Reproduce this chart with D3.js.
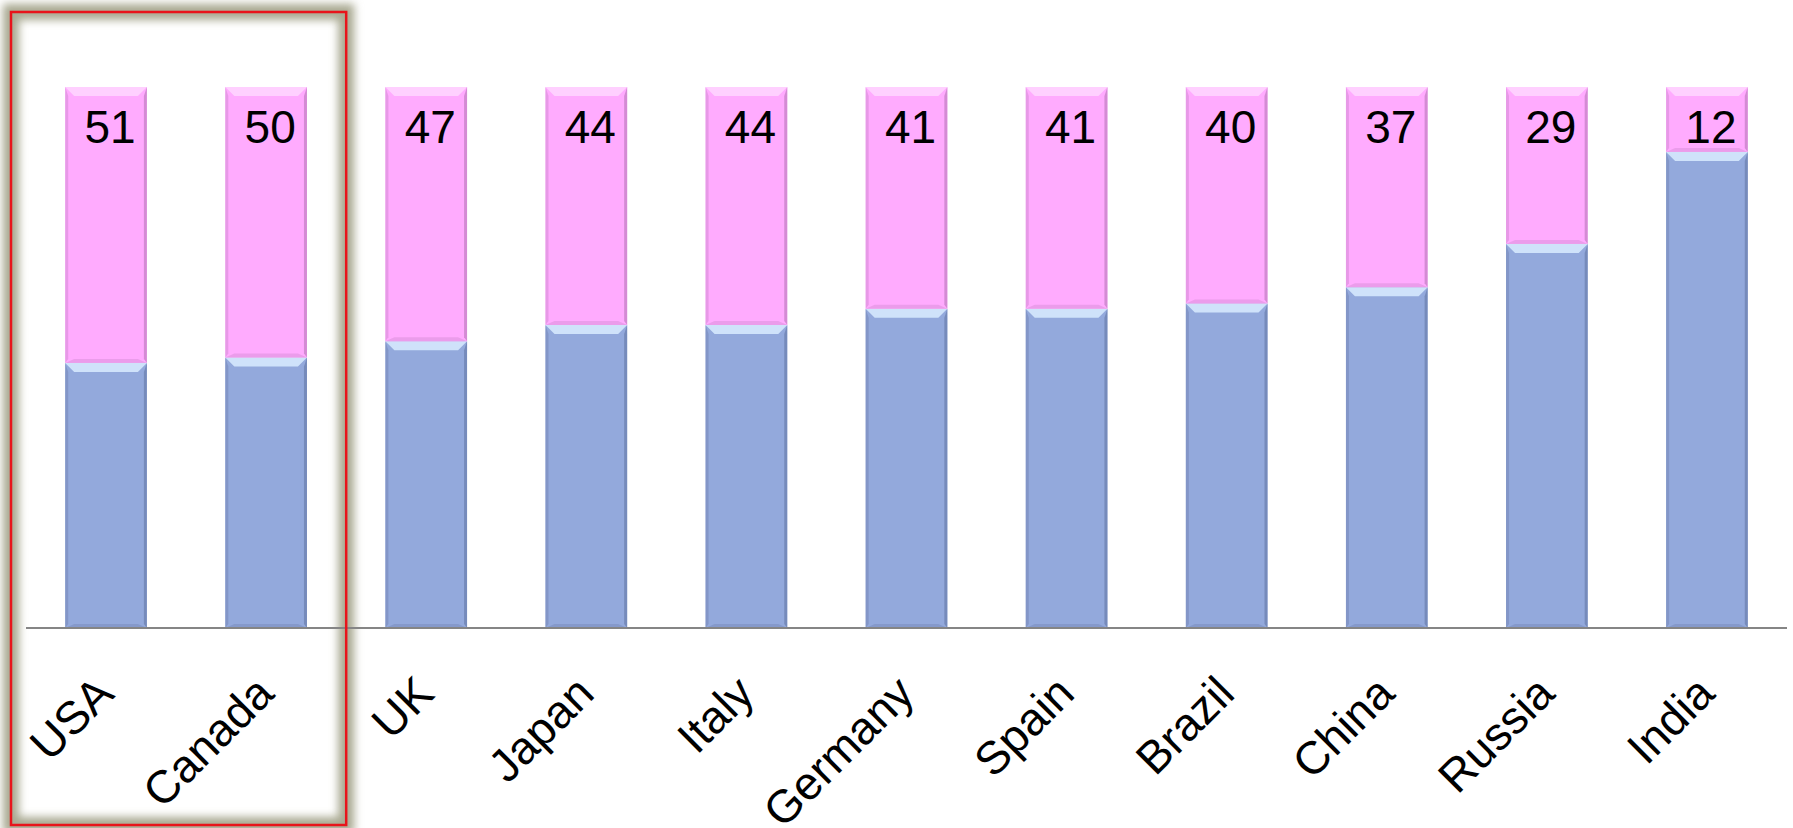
<!DOCTYPE html>
<html>
<head>
<meta charset="utf-8">
<script src="https://cdn.jsdelivr.net/npm/d3@7"></script>
<style>
  body { margin: 0; background: #fff; }
  text { font-family: Arial, "Liberation Sans", sans-serif; fill: #000; }
</style>
</head>
<body>
<div id="chart"></div>
<script>
var countries = ["USA", "Canada", "UK", "Japan", "Italy", "Germany", "Spain", "Brazil", "China", "Russia", "India"];
var topValues = [51, 50, 47, 44, 44, 41, 41, 40, 37, 29, 12];
var bottomValues = [49, 50, 53, 56, 56, 59, 59, 60, 63, 71, 88];
var highlighted = ["USA", "Canada"];

var W = 1793, H = 828;
var axisY = 628, topY = 87;

var svg = d3.select("#chart").append("svg")
    .attr("width", W)
    .attr("height", H);

var defs = svg.append("defs");
defs.append("filter").attr("id", "glow")
    .attr("x", "-10%").attr("y", "-10%").attr("width", "120%").attr("height", "120%")
  .append("feGaussianBlur").attr("stdDeviation", 4);

var x = d3.scaleBand()
    .domain(countries)
    .range([26, 1787])
    .paddingInner(0.49)
    .paddingOuter(0.245);

var y = d3.scaleLinear()
    .domain([0, 100])
    .range([axisY, topY]);

var rows = countries.map(function(c, i){
    return {name: c, bottom: bottomValues[i], top: topValues[i]};
});

var series = [
    {key: "bottom", base: "#93a9dc", light: "#d9ecff", dark: "#6f83b3", edge: "#7c8fbf"},
    {key: "top", base: "#ffabfe", light: "#ffd6ff", dark: "#c983c9", edge: "#dd92dd"}
];

// highlight box round the first two
var bx0 = x(highlighted[0]) - (x.step() - x.bandwidth()) / 2 - 15;
var bx1 = x(highlighted[1]) + x.bandwidth() + (x.step() - x.bandwidth()) / 2;
svg.append("rect")
    .attr("x", bx0).attr("y", 12)
    .attr("width", bx1 - bx0).attr("height", 813)
    .attr("fill", "none")
    .attr("stroke", "#a9a991")
    .attr("stroke-width", 16)
    .attr("filter", "url(#glow)");

function bevel(g, x0, y0, w, h, s){
    var b = Math.min(9, h / 2), sd = 3;
    g.append("rect").attr("x", x0).attr("y", y0).attr("width", w).attr("height", h).attr("fill", s.base);
    // top highlight
    g.append("polygon")
        .attr("points", [[x0, y0], [x0 + w, y0], [x0 + w - b, y0 + b], [x0 + b, y0 + b]].join(" "))
        .attr("fill", s.light).attr("opacity", 0.85);
    // bottom shade
    g.append("polygon")
        .attr("points", [[x0, y0 + h], [x0 + w, y0 + h], [x0 + w - b, y0 + h - 4], [x0 + b, y0 + h - 4]].join(" "))
        .attr("fill", s.edge).attr("opacity", 0.6);
    // sides
    g.append("polygon")
        .attr("points", [[x0, y0], [x0 + sd, y0 + b], [x0 + sd, y0 + h - 4], [x0, y0 + h]].join(" "))
        .attr("fill", s.edge).attr("opacity", 0.7);
    g.append("polygon")
        .attr("points", [[x0 + w, y0], [x0 + w - sd, y0 + b], [x0 + w - sd, y0 + h - 4], [x0 + w, y0 + h]].join(" "))
        .attr("fill", s.dark).attr("opacity", 0.8);
}

var bars = svg.selectAll(".bar")
    .data(rows)
  .enter().append("g")
    .attr("class", "bar");

bars.each(function(d){
    var g = d3.select(this);
    var x0 = x(d.name), w = x.bandwidth();
    var yb0 = y(d.bottom), yb1 = y(0);
    var yt0 = y(d.bottom + d.top), yt1 = y(d.bottom);
    bevel(g, x0, yb0, w, yb1 - yb0, series[0]);
    bevel(g, x0, yt0, w, yt1 - yt0, series[1]);
});

svg.selectAll(".valueLabel")
    .data(rows)
  .enter().append("text")
    .attr("class", "valueLabel")
    .attr("x", function(d){ return x(d.name) + x.bandwidth() / 2 + 4; })
    .attr("y", y(100) + 56)
    .attr("text-anchor", "middle")
    .style("font-size", "46px")
    .text(function(d){ return d.top; });

svg.append("line")
    .attr("x1", x.range()[0])
    .attr("x2", x.range()[1])
    .attr("y1", axisY)
    .attr("y2", axisY)
    .attr("stroke", "#858585")
    .attr("stroke-width", 2);

svg.selectAll(".catLabel")
    .data(countries)
  .enter().append("text")
    .attr("class", "catLabel")
    .attr("transform", function(d){
        return "translate(" + (x(d) + x.bandwidth() / 2 + 10) + "," + (axisY + 68) + ") rotate(-45)";
    })
    .attr("text-anchor", "end")
    .style("font-size", "46px")
    .text(function(d){ return d; });

svg.append("rect")
    .attr("x", bx0).attr("y", 12)
    .attr("width", bx1 - bx0).attr("height", 813)
    .attr("fill", "none")
    .attr("stroke", "#e8141b")
    .attr("stroke-width", 2.5);
</script>
</body>
</html>
